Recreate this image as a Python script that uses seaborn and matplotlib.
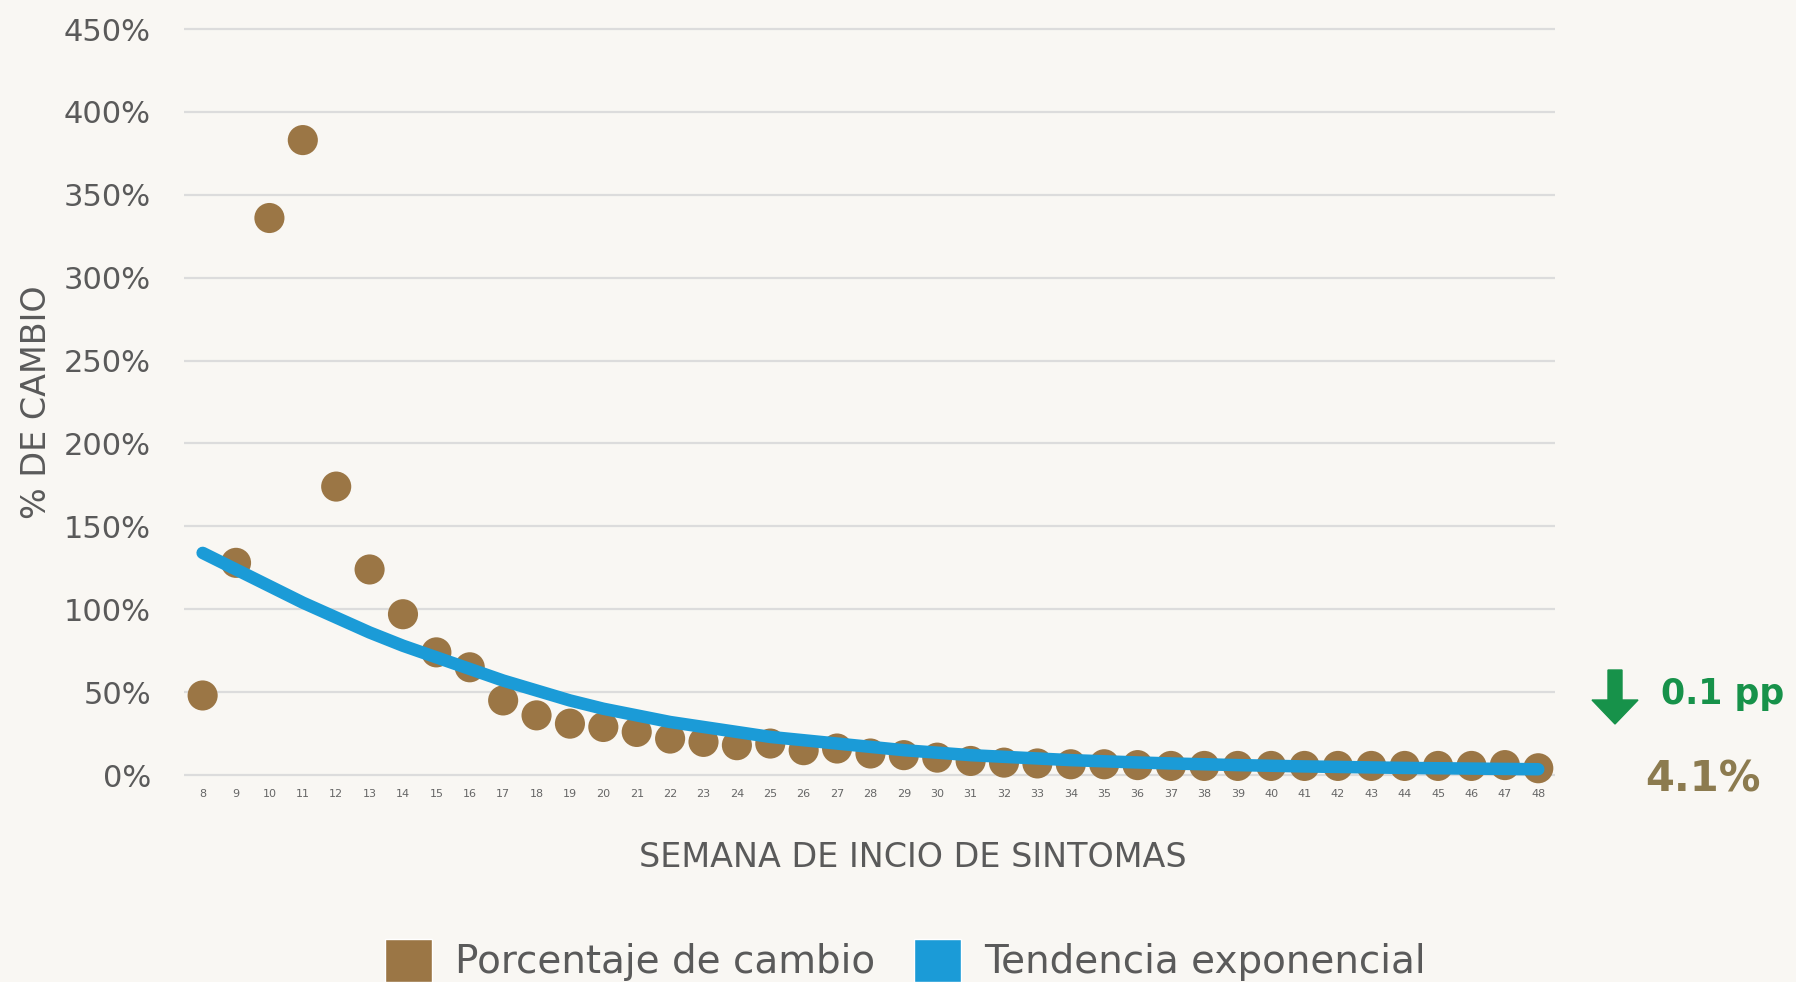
import matplotlib
matplotlib.use("Agg")
import matplotlib.pyplot as plt
import seaborn as sns
import pandas as pd
from matplotlib.patches import Patch, FancyArrow
from matplotlib.transforms import IdentityTransform

# datos
semanas = list(range(8, 49))
porcentaje_cambio = [48, 128, 336, 383, 174, 124, 97, 74, 65, 45,
                     36, 31, 29, 26, 22, 20, 18, 19, 15, 16,
                     13, 12, 10.5, 8.5, 7.5, 7, 6.5, 6.5, 6, 5.5,
                     5.5, 5.5, 5.5, 5.5, 5.5, 5.5, 5.5, 5.5, 5.5, 6, 4.1]
tendencia_exp = [134, 124, 114, 104, 95, 86, 78, 71, 64, 57,
                 51, 45, 40, 36, 32, 29, 26, 23, 21, 19,
                 17, 15, 13.5, 12, 11, 10, 9, 8.3, 7.6, 7,
                 6.5, 6, 5.6, 5.2, 4.9, 4.6, 4.3, 4.1, 3.9, 3.7, 3.5]
y_ticks = [0, 50, 100, 150, 200, 250, 300, 350, 400, 450]

df = pd.DataFrame({"semana": semanas,
                   "cambio": porcentaje_cambio,
                   "tendencia": tendencia_exp})

cafe = "#9B7645"
azul = "#1B9BD7"
gris = "#5a5a5a"

sns.set_theme(style="white")
plt.rcParams["font.family"] = ["DejaVu Sans"]

fig = plt.figure(figsize=(17.96, 9.82), dpi=100, facecolor="#F9F7F3")
ax = fig.add_axes([0.1026, 0.2023, 0.7632, 0.7766])
ax.set_facecolor("none")

sns.scatterplot(data=df, x="semana", y="cambio", s=470, color=cafe,
                edgecolor="none", ax=ax, zorder=3, clip_on=False, legend=False)
sns.lineplot(data=df, x="semana", y="tendencia", color=azul, linewidth=9,
             ax=ax, zorder=4, legend=False)

ax.set_xlim(7.45, 48.5)
ax.set_ylim(-5, 455)
ax.set_yticks(y_ticks)
ax.set_yticklabels([f"{v}%" for v in y_ticks], fontsize=22, color=gris)
ax.set_xticks(semanas)
ax.set_xticklabels([str(s) for s in semanas], fontsize=8, color="#666666")
ax.tick_params(axis="y", length=0, pad=24)
ax.tick_params(axis="x", length=0, pad=4)
for y in y_ticks:
    ax.axhline(y, color="#DCDCDC", linewidth=1.6, zorder=1)
sns.despine(ax=ax, left=True, bottom=True)

ax.set_xlabel("SEMANA DE INCIO DE SINTOMAS", fontsize=24, color=gris, labelpad=30)
ax.xaxis.label.set_x(0.5315)
ax.set_ylabel("% DE CAMBIO", fontsize=24, color=gris, labelpad=8)

# anotacion a la derecha
arrow = FancyArrow(1615, 312, 0, -54, width=14, head_width=46, head_length=24,
                   length_includes_head=True, color="#17924A",
                   transform=IdentityTransform())
fig.patches.append(arrow)
fig.text(1661 / 1796, 1 - 694 / 982, "0.1 pp", fontsize=25, fontweight="bold",
         color="#17924A", ha="left", va="center")
fig.text(1703 / 1796, 1 - 779 / 982, "4.1%", fontsize=30, fontweight="bold",
         color="#8C7B4F", ha="center", va="center")

handles = [Patch(facecolor=cafe, label="Porcentaje de cambio"),
           Patch(facecolor=azul, label="Tendencia exponencial")]
fig.legend(handles=handles, loc="center", bbox_to_anchor=(0.504, 0.022), ncol=2,
           frameon=False, fontsize=28, handlelength=1.2, handleheight=1.3,
           columnspacing=1.0, handletextpad=0.6, labelcolor=gris)

fig.savefig("out.png", dpi=100, facecolor=fig.get_facecolor())
